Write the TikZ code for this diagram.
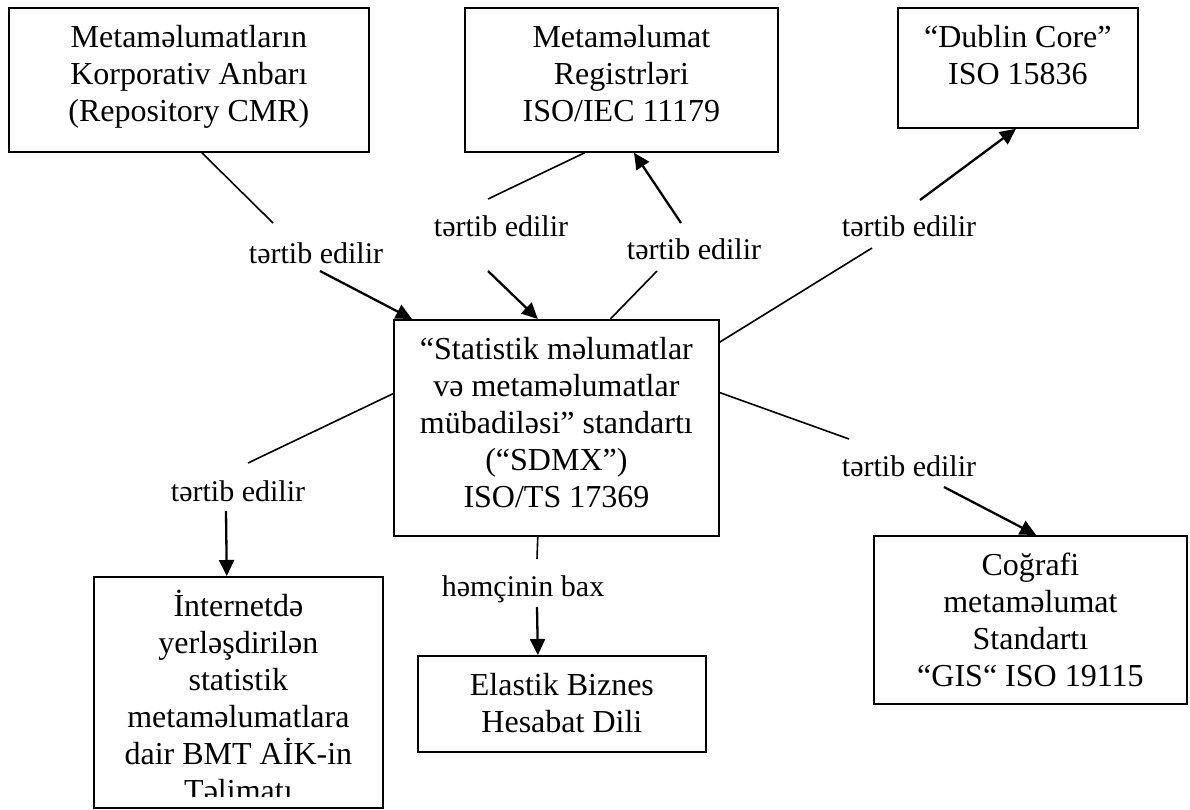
\documentclass[tikz,border=0pt]{standalone}
\usepackage{fontspec}
\setmainfont{Liberation Serif}
\usetikzlibrary{arrows.meta,calc}
\tikzset{
  box/.style={draw, line width=1.8pt, inner sep=0pt, anchor=north west},
  lbl/.style={inner sep=0pt, anchor=base, font=\fontsize{30}{36}\selectfont},
  conn/.style={line width=1.6pt},
  arr/.style={line width=2.3pt, -{Triangle[length=16pt,width=15pt]}},
}
\newcommand{\boxtext}[3]{\parbox[c][#2][t]{#1}{\centering\fontsize{32}{37}\selectfont\rule{0pt}{40pt}#3}}
\begin{document}
\begin{tikzpicture}[x=1pt,y=-1pt]
\useasboundingbox (0,0) rectangle (1190,809);
% boxes
\node[box] (A) at (8,7) {\boxtext{360pt}{144pt}{Metaməlumatların\\Korporativ Anbarı\\(Repository CMR)}};
\node[box] (B) at (464,7) {\boxtext{313pt}{144pt}{Metaməlumat\\Registrləri\\ISO/IEC 11179}};
\node[box] (C) at (897,7) {\boxtext{240pt}{120pt}{“Dublin Core”\\ISO 15836}};
\node[box] (D) at (393,319) {\boxtext{325pt}{216pt}{“Statistik məlumatlar\\və metaməlumatlar\\mübadiləsi” standartı\\(“SDMX”)\\ISO/TS 17369}};
\node[box] (I) at (93,576) {\boxtext{289pt}{231pt}{İnternetdə\\yerləşdirilən\\statistik\\metaməlumatlara\\dair BMT AİK-in\\Təlimatı}};
\node[box] (E) at (417,655) {\boxtext{288pt}{96pt}{Elastik Biznes\\Hesabat Dili}};
\node[box] (G) at (873,535) {\boxtext{313pt}{168pt}{Coğrafi\\metaməlumat\\Standartı\\“GIS“ ISO 19115}};
% clipped text strip of the lower-left box
\fill[white] (95,797) rectangle (380,805.5);
% labels
\node[lbl] (l1) at (316,263) {tərtib edilir};
\node[lbl] (l2) at (501,236) {tərtib edilir};
\node[lbl] (l3) at (694,259) {tərtib edilir};
\node[lbl] (l4) at (909,236) {tərtib edilir};
\node[lbl] (l5) at (909,476) {tərtib edilir};
\node[lbl] (l6) at (238,501) {tərtib edilir};
\node[lbl] (l7) at (523,596) {həmçinin bax};
% free ends near labels
\coordinate (p1) at (273,223); \coordinate (q1) at (320,271);
\coordinate (p2) at (488,199); \coordinate (q2) at (488,271);
\coordinate (p3) at (657,271); \coordinate (q3) at (681,223);
\coordinate (p4) at (872,248); \coordinate (q4) at (920,200);
\coordinate (p5) at (849,439); \coordinate (q5) at (944,487);
\coordinate (p6) at (248,463); \coordinate (q6) at (226,511);
\coordinate (p7) at (537,559); \coordinate (q7) at (537,607);
% connectors
\draw[conn] ($(A.south west)!0.536!(A.south east)$) -- (p1);
\draw[arr] (q1) -- ($(D.north west)!0.058!(D.north east)$);
\draw[conn] ($(B.south west)!0.383!(B.south east)$) -- (p2);
\draw[arr] (q2) -- ($(D.north west)!0.443!(D.north east)$);
\draw[conn] ($(D.north west)!0.665!(D.north east)$) -- (p3);
\draw[arr] (q3) -- ($(B.south west)!0.54!(B.south east)$);
\draw[conn] ($(D.north east)!0.106!(D.south east)$) -- (p4);
\draw[arr] (q4) -- ($(C.south west)!0.492!(C.south east)$);
\draw[conn] ($(D.north east)!0.338!(D.south east)$) -- (p5);
\draw[arr] (q5) -- ($(G.north west)!0.518!(G.north east)$);
\draw[conn] ($(D.north west)!0.343!(D.south west)$) -- (p6);
\draw[arr] (q6) -- ($(I.north west)!0.46!(I.north east)$);
\draw[conn] ($(D.south west)!0.443!(D.south east)$) -- (p7);
\draw[arr] (q7) -- ($(E.north west)!0.417!(E.north east)$);
\end{tikzpicture}
\end{document}
